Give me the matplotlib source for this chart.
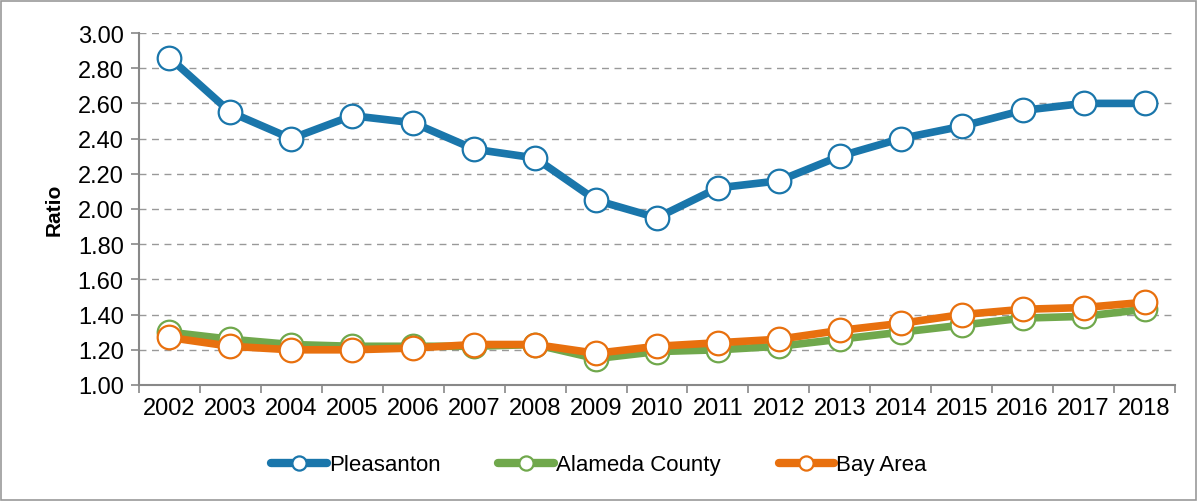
import numpy as np
import matplotlib.pyplot as plt
from matplotlib.patches import Rectangle

plt.rcParams['font.family'] = ['Liberation Sans', 'DejaVu Sans']

years = [str(y) for y in range(2002, 2019)]
pleasanton = [2.86, 2.55, 2.40, 2.53, 2.49, 2.34, 2.29, 2.05, 1.95, 2.12, 2.16,
              2.30, 2.40, 2.47, 2.56, 2.60, 2.60]
alameda = [1.30, 1.26, 1.23, 1.22, 1.22, 1.22, 1.23, 1.15, 1.19, 1.20, 1.22,
           1.26, 1.30, 1.34, 1.38, 1.39, 1.43]
bay_area = [1.27, 1.22, 1.20, 1.20, 1.21, 1.23, 1.23, 1.18, 1.22, 1.24, 1.26,
            1.31, 1.35, 1.40, 1.43, 1.44, 1.47]

series = [
    ("Pleasanton", pleasanton, "#1a76ab"),
    ("Alameda County", alameda, "#70a84c"),
    ("Bay Area", bay_area, "#e8700e"),
]

fig = plt.figure(figsize=(11.98, 5.02), dpi=100)
ax = fig.add_axes([139 / 1198, 1 - 386 / 502, (1175 - 139) / 1198, (386 - 34) / 502])

x = np.arange(len(years))
for name, vals, col in series:
    ax.plot(x, vals, color=col, lw=5.5, marker='o', ms=17, mfc='white',
            mec=col, mew=1.6, label=name, solid_capstyle='round', zorder=3)

ax.set_xlim(-0.5, len(years) - 0.5)
ax.set_ylim(1.0, 3.0)
ax.set_yticks(np.arange(1.0, 3.01, 0.2))
ax.set_yticklabels([f"{v:.2f}" for v in np.arange(1.0, 3.01, 0.2)])
ax.set_xticks(x)
ax.set_xticklabels(years)
ax.set_xticks(np.arange(-0.5, len(years), 1), minor=True)
ax.tick_params(axis='x', which='major', length=0, pad=9, labelsize=17)
ax.tick_params(axis='x', which='minor', length=6, color='#888888', width=1.2)
ax.tick_params(axis='y', length=6, color='#888888', width=1.2, labelsize=17, pad=5)
ax.yaxis.grid(True, ls=(0, (5, 4)), color='#999999', lw=1)
ax.set_axisbelow(True)
for s in ['top', 'right']:
    ax.spines[s].set_visible(False)
for s in ['left', 'bottom']:
    ax.spines[s].set_color('#888888')
    ax.spines[s].set_linewidth(1.5)
ax.set_ylabel("Ratio", fontsize=15, fontweight='bold', labelpad=10)

leg = fig.legend(loc='center', bbox_to_anchor=(0.5, 1 - 466 / 502), ncol=3,
                 frameon=False, fontsize=16, handlelength=2.5, handletextpad=0.1,
                 columnspacing=2.6, markerscale=0.6)
for h in leg.legend_handles:
    h.set_markeredgewidth(1.6)
    h.set_linewidth(6)

fig.patches.append(Rectangle((0.001, 0.002), 0.997, 0.995, transform=fig.transFigure,
                             fill=False, edgecolor='#999999', lw=1.2))

fig.savefig("out.png", dpi=100)
